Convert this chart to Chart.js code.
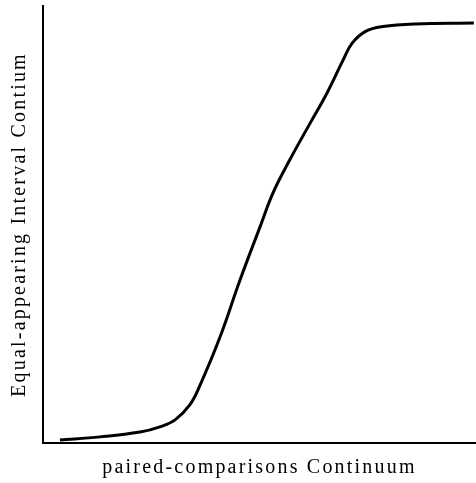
<!DOCTYPE html>
<html>
<head>
<meta charset="utf-8">
<script src="https://cdn.jsdelivr.net/npm/chart.js@4/dist/chart.umd.min.js"></script>
<style>
  html, body { margin: 0; padding: 0; background: #fff; }
  #wrap { width: 476px; height: 483px; }
</style>
</head>
<body>
<div id="wrap"><canvas id="myChart"></canvas></div>
<script>
// values (arbitrary 0-100 units on both axes)
const pairedX = [3.9, 13.2, 22.4, 27.0, 30.5, 33.9, 36.3, 40.9, 45.5, 50.1, 53.1, 57.0, 61.7, 65.6, 69.3, 71.4, 74.5, 78.5, 86.0, 99.5]
const intervalY = [0.7, 1.4, 2.5, 3.7, 5.3, 8.7, 13.3, 24.3, 37.3, 49.4, 57.2, 64.8, 73.2, 80.1, 87.6, 91.5, 94.2, 95.3, 95.9, 96.1]
const xTitle = 'paired-comparisons Continuum'
const yTitle = 'Equal-appearing Interval Contium'

const points = pairedX.map((x, i) => ({ x: x, y: intervalY[i] }))

// wider letter spacing like the scanned figure
const spacing = {
  id: 'spacing',
  beforeDraw(chart) {
    chart.ctx.letterSpacing = '2.2px'
  }
}

const titleFont = { family: "'Liberation Serif', 'DejaVu Serif', serif", size: 20 }

const ctx = document.getElementById('myChart')
// eslint-disable-next-line no-unused-vars
const myChart = new Chart(ctx, {
  type: 'line',
  data: {
    datasets: [{
      data: points,
      borderColor: '#000',
      borderWidth: 3,
      pointRadius: 0,
      tension: 0.4,
      fill: false
    }]
  },
  options: {
    responsive: true,
    maintainAspectRatio: false,
    animation: false,
    layout: { padding: { top: 6, left: 4, right: 0, bottom: 0 } },
    plugins: {
      legend: { display: false },
      tooltip: { enabled: false }
    },
    scales: {
      x: {
        type: 'linear',
        min: 0,
        max: 100,
        grid: { display: false, drawTicks: false },
        border: { display: true, color: '#000', width: 2 },
        ticks: { display: false },
        title: {
          display: true,
          text: xTitle,
          color: '#000',
          font: titleFont,
          padding: { top: 13, bottom: 3 }
        }
      },
      y: {
        min: 0,
        max: 100,
        grid: { display: false, drawTicks: false },
        border: { display: true, color: '#000', width: 2 },
        ticks: { display: false },
        title: {
          display: true,
          text: yTitle,
          color: '#000',
          font: titleFont,
          padding: { top: 4, bottom: 11 }
        }
      }
    }
  },
  plugins: [spacing]
})
</script>
</body>
</html>
